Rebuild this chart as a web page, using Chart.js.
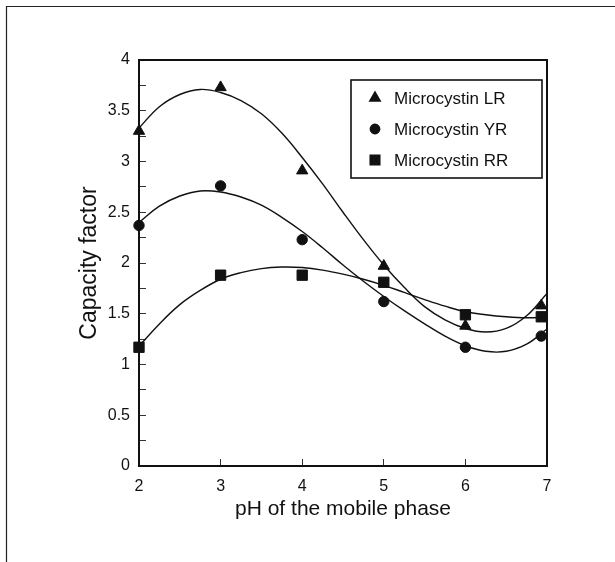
<!DOCTYPE html>
<html><head><meta charset="utf-8">
<script src="https://cdn.jsdelivr.net/npm/chart.js@4/dist/chart.umd.min.js"></script>
<style>html,body{margin:0;padding:0;background:#fff;}#wrap{width:615px;height:562px;position:relative;}</style>
</head><body><div id="wrap"><canvas id="c" width="615" height="562"></canvas></div>
<script>
// ---- data ----
const seriesNames = ['Microcystin LR', 'Microcystin YR', 'Microcystin RR'];
const pointStyles = ['triangle', 'circle', 'rect'];
const measuredPH = [2, 3, 4, 5, 6, 6.93];
const lrMeasured = [3.30, 3.73, 2.91, 1.97, 1.38, 1.58];
const yrMeasured = [2.37, 2.76, 2.23, 1.62, 1.17, 1.28];
const rrMeasured = [1.17, 1.88, 1.88, 1.81, 1.49, 1.47];
// fitted curves
const curvePH = [2, 2.25, 2.5, 2.75, 3, 3.25, 3.5, 3.75, 4, 4.25, 4.5, 4.75, 5, 5.25, 5.5, 5.75, 6, 6.25, 6.5, 6.75, 7];
const lrCurve = [3.33, 3.54, 3.66, 3.71, 3.68, 3.60, 3.47, 3.28, 3.04, 2.78, 2.50, 2.23, 1.98, 1.76, 1.57, 1.44, 1.355, 1.32, 1.355, 1.48, 1.70];
const yrCurve = [2.40, 2.56, 2.66, 2.71, 2.70, 2.65, 2.57, 2.45, 2.31, 2.15, 1.98, 1.82, 1.67, 1.53, 1.40, 1.28, 1.185, 1.13, 1.13, 1.20, 1.35];
const rrCurve = [1.18, 1.40, 1.59, 1.73, 1.84, 1.905, 1.945, 1.96, 1.955, 1.93, 1.89, 1.84, 1.78, 1.71, 1.64, 1.575, 1.52, 1.49, 1.47, 1.46, 1.465];
const xTickLabels = ['2', '3', '4', '5', '6', '7'];
const yTickLabels = ['0', '0.5', '1', '1.5', '2', '2.5', '3', '3.5', '4'];
const xTitle = 'pH of the mobile phase';
const yTitle = 'Capacity factor';

// ---- build ----
const INK = '#111';
const FONT = '"Liberation Sans", Arial, Helvetica, sans-serif';
const toPts = (xs, ys) => xs.map((x, i) => ({x: x, y: ys[i]}));
const measured = [lrMeasured, yrMeasured, rrMeasured];
const curves = [lrCurve, yrCurve, rrCurve];
const radii = {triangle: 6.5, circle: 5.2, rect: 7.3};

const datasets = [];
curves.forEach((c, i) => datasets.push({
  label: seriesNames[i] + ' fit', data: toPts(curvePH, c), showLine: true,
  borderColor: INK, borderWidth: 1.4, pointRadius: 0, tension: 0.4, fill: false, order: 2
}));
measured.forEach((m, i) => datasets.push({
  label: seriesNames[i], data: toPts(measuredPH, m), showLine: false,
  pointStyle: pointStyles[i], pointRadius: radii[pointStyles[i]], pointBorderWidth: 1,
  backgroundColor: INK, borderColor: INK, clip: false, order: 1
}));

const zeroPad = s => { s.paddingTop = 0; s.paddingBottom = 0; s.paddingLeft = 0; s.paddingRight = 0; };

const framePlugin = {
  id: 'frame',
  beforeDraw(chart) {
    const ctx = chart.ctx;
    ctx.save();
    ctx.fillStyle = '#fff';
    ctx.fillRect(0, 0, chart.width, chart.height);
    ctx.strokeStyle = '#222';
    ctx.lineWidth = 1.2;
    ctx.beginPath();
    ctx.moveTo(6.5, chart.height);
    ctx.lineTo(6.5, 6.5);
    ctx.lineTo(chart.width, 6.5);
    ctx.stroke();
    ctx.restore();
  },
  beforeDatasetsDraw(chart) {
    const a = chart.chartArea, ctx = chart.ctx;
    ctx.save();
    ctx.strokeStyle = INK;
    ctx.lineWidth = 2;
    ctx.strokeRect(a.left, a.top, a.right - a.left, a.bottom - a.top);
    ctx.restore();
  },
  afterDatasetsDraw(chart) {
    const ctx = chart.ctx;
    ctx.save();
    ctx.fillStyle = '#fff';
    ctx.fillRect(351, 80, 191, 98);
    ctx.strokeStyle = INK;
    ctx.lineWidth = 1.6;
    ctx.strokeRect(351, 80, 191, 98);
    const rows = [98, 129, 160];
    seriesNames.forEach((name, i) => {
      ctx.fillStyle = INK; ctx.strokeStyle = INK;
      Chart.helpers.drawPoint(ctx, {pointStyle: pointStyles[i], rotation: 0, radius: radii[pointStyles[i]] - 0.6, borderWidth: 1}, 375, rows[i]);
      ctx.fillStyle = INK;
      ctx.font = '17px ' + FONT;
      ctx.textAlign = 'left';
      ctx.textBaseline = 'middle';
      ctx.fillText(name, 394, rows[i] + 1);
    });
    ctx.restore();
  }
};

new Chart(document.getElementById('c'), {
  type: 'scatter',
  data: {datasets: datasets},
  plugins: [framePlugin],
  options: {
    responsive: false, animation: false, devicePixelRatio: 1,
    layout: {padding: {left: 0, top: 60, right: 68, bottom: 0}},
    plugins: {legend: {display: false}, tooltip: {enabled: false}},
    scales: {
      x: {
        type: 'linear', min: 2, max: 7,
        border: {display: false},
        grid: {drawOnChartArea: false, drawTicks: true, tickLength: -7, color: '#333', lineWidth: 1},
        ticks: {
          stepSize: 1, autoSkip: false, maxRotation: 0, padding: 18, color: INK,
          font: {family: FONT, size: 16},
          callback: v => { const i = xTickLabels.indexOf(String(v)); return i >= 0 ? xTickLabels[i] : ''; }
        },
        title: {display: true, text: xTitle, color: INK, font: {family: FONT, size: 21, lineHeight: 1.2}, padding: {top: 0, bottom: 40}},
        afterFit: s => { s.height = 96; zeroPad(s); }
      },
      y: {
        type: 'linear', min: 0, max: 4,
        border: {display: false},
        grid: {drawOnChartArea: false, drawTicks: true, tickLength: -7, color: '#333', lineWidth: 1},
        ticks: {
          stepSize: 0.25, autoSkip: false, padding: 16, color: INK,
          font: {family: FONT, size: 16},
          callback: v => { const i = yTickLabels.findIndex(t => Math.abs(parseFloat(t) - v) < 1e-9); return i >= 0 ? yTickLabels[i] : ''; }
        },
        title: {display: true, text: yTitle, color: INK, font: {family: FONT, size: 23, lineHeight: 1.2}, padding: {top: 76, bottom: 0}},
        afterFit: s => { s.width = 139; zeroPad(s); }
      }
    }
  }
});
</script>
</body></html>
